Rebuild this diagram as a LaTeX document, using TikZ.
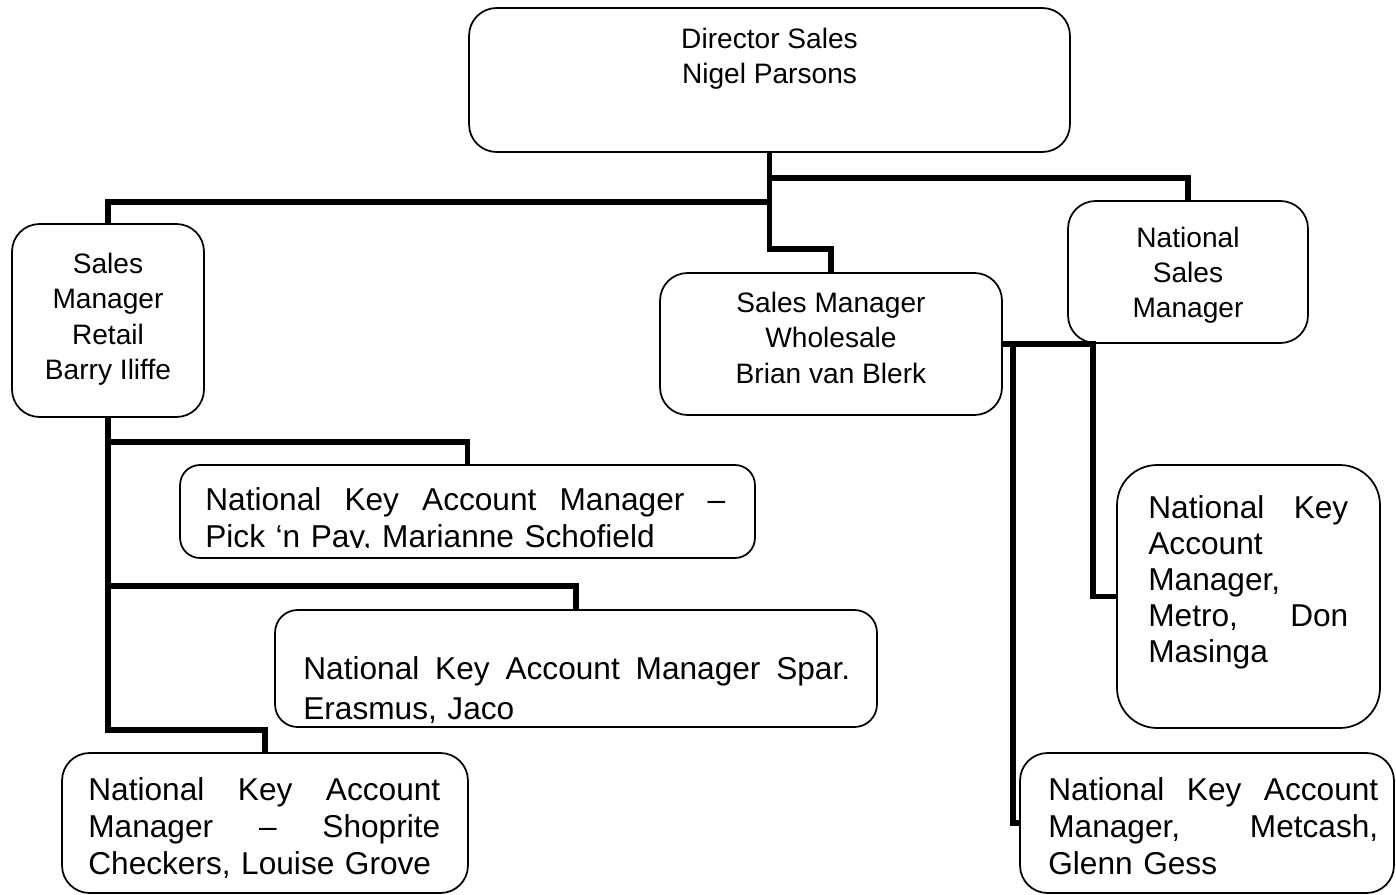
\documentclass[tikz,border=0pt]{standalone}
\usepackage{fontspec}
\setmainfont{Liberation Sans}
\newcommand{\spreadline}[2]{\leavevmode\hbox to #1{\spaceskip=0pt plus 1fil\relax #2}}

\begin{document}
\begin{tikzpicture}[x=0.02cm, y=-0.02cm,
    orgbox/.style={draw, line width=1pt, rounded corners=0.55cm, inner sep=0pt},
    link/.style={line width=3.4pt},
    toptxt/.style={font=\fontsize{16}{20}\selectfont, align=center, inner sep=0pt, anchor=north},
    keytxt/.style={font=\fontsize{18}{21}\selectfont, align=left, inner sep=0pt, anchor=north west}]
  \useasboundingbox (0,0) rectangle (1396,895);
  \node[orgbox, minimum width=12.02cm, minimum height=2.88cm] (dir) at (769.5,80) {};
  \node[orgbox, minimum width=3.84cm, minimum height=3.86cm] (retail) at (108,320.5) {};
  \node[orgbox, minimum width=6.84cm, minimum height=2.84cm] (wholesale) at (831,344) {};
  \node[orgbox, minimum width=4.8cm, minimum height=2.84cm] (natsales) at (1188,272) {};
  \node[orgbox, rounded corners=0.4cm, minimum width=11.5cm, minimum height=1.86cm] (pnp) at (467.5,511.5) {};
  \node[orgbox, rounded corners=0.45cm, minimum width=12.04cm, minimum height=2.34cm] (spar) at (576,668.5) {};
  \node[orgbox, minimum width=8.12cm, minimum height=2.8cm] (shoprite) at (265,823) {};
  \node[orgbox, rounded corners=0.8cm, minimum width=5.26cm, minimum height=5.26cm] (metro) at (1248.5,596.5) {};
  \node[orgbox, minimum width=7.48cm, minimum height=2.8cm] (metcash) at (1207,823) {};

  \node[toptxt] (dir-t) at (dir.north |- 0,28) {Director Sales\\Nigel Parsons};
  \node[toptxt] (retail-t) at (retail.north |- 0,253) {Sales\\Manager\\Retail\\Barry Iliffe};
  \node[toptxt] (wholesale-t) at (wholesale.north |- 0,292) {Sales Manager\\Wholesale\\Brian van Blerk};
  \node[toptxt] (natsales-t) at (natsales.north |- 0,227) {National\\Sales\\Manager};
  \begin{scope}
    \clip (pnp.north west) rectangle (pnp.east |- 0,547);
    \node[keytxt, text width=10.4cm] (pnp-t) at (205,487)
      {\spreadline{10.4cm}{National Key Account Manager –}\\Pick ‘n Pay, Marianne Schofield};
  \end{scope}
  \node[keytxt, text width=10.94cm, font=\fontsize{18}{22.7}\selectfont] (spar-t) at (303,656)
    {\spreadline{10.94cm}{National Key Account Manager Spar.}\\Erasmus, Jaco};
  \node[keytxt, text width=7.04cm] (shoprite-t) at (88,777)
    {\spreadline{7.04cm}{National Key Account}\\\spreadline{7.04cm}{Manager – Shoprite}\\Checkers, Louise Grove};
  \node[keytxt, text width=4cm, font=\fontsize{18}{20.5}\selectfont] (metro-t) at (1148,495)
    {\spreadline{4cm}{National Key}\\Account\\Manager,\\\spreadline{4cm}{Metro, Don}\\Masinga};
  \node[keytxt, text width=6.6cm] (metcash-t) at (1048,777)
    {\spreadline{6.6cm}{National Key Account}\\\spreadline{6.6cm}{Manager, Metcash,}\\Glenn Gess};

  \draw[link] (dir.south) -- ++(0,25) -| (natsales.north);
  \draw[link] (dir.south) -- ++(0,49) -| (retail.north);
  \draw[link] (dir.south) -- ++(0,96) -| (wholesale.north);
  \draw[link] (wholesale.east) -- ++(90,0) |- (metro.west);
  \draw[link] (wholesale.east) -- ++(10,0) |- (metcash.west);
  \draw[link] (retail.south) -- ++(0,24) -| (pnp.north);
  \draw[link] (retail.south) -- ++(0,168) -| (spar.north);
  \draw[link] (retail.south) -- ++(0,312) -| (shoprite.north);
\end{tikzpicture}
\end{document}
